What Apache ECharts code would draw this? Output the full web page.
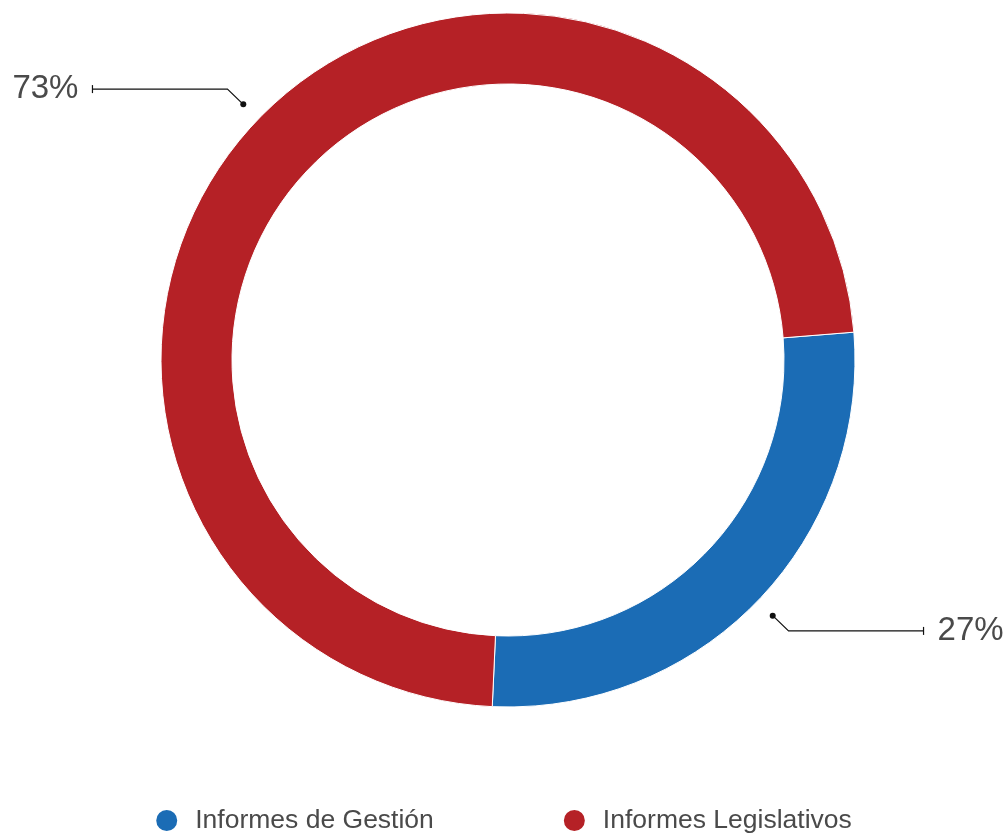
<!DOCTYPE html>
<html><head><meta charset="utf-8">
<script src="https://cdn.jsdelivr.net/npm/echarts@6/dist/echarts.min.js"></script>
<style>html,body{margin:0;padding:0;background:#fff}#c{width:1006px;height:835px}</style>
</head><body><div id="c"></div>
<script>
const categories = ['Informes de Gestión', 'Informes Legislativos'];
const values = [27, 73];
const colors = ['#1b6cb5', '#b52126'];
const labels = ['27%', '73%'];

const chart = echarts.init(document.getElementById('c'), null, {renderer: 'canvas'});
const data = categories.map((n, i) => ({name: n, value: values[i], itemStyle: {color: colors[i]}}));
const FONT = '"Liberation Sans", Arial, sans-serif';
chart.setOption({
  animation: false,
  legend: {
    data: categories, top: 802, left: 'center', icon: 'circle',
    itemWidth: 23, itemHeight: 23, itemGap: 128,
    textStyle: {fontSize: 26.5, color: '#4a4a4a', fontFamily: FONT, padding: [0, 0, 0, 12]}
  },
  series: [
    {
      type: 'pie', center: [508, 360], radius: [276, 347], startAngle: 4.6, clockwise: true,
      data: data, label: {show: false}, labelLine: {show: false},
      itemStyle: {borderColor: '#fff', borderWidth: 1}, emphasis: {disabled: true}, silent: true
    },
    {
      type: 'pie', center: [508, 360], radius: [367, 368], startAngle: 4.6, clockwise: true,
      data: categories.map((n, i) => ({name: n, value: values[i]})),
      itemStyle: {color: 'rgba(255,255,255,0)'}, silent: true, emphasis: {disabled: true},
      label: {show: true, position: 'outside', formatter: p => labels[p.dataIndex],
        fontSize: 33, color: '#4a4a4a', fontFamily: FONT, distanceToLabelLine: 14,
        overflow: 'none', padding: [9, 0, 0, 0]},
      labelLine: {show: true, length: 22, length2: 135, lineStyle: {color: '#111', width: 1.2}},
      legendHoverLink: false
    }
  ]
});

function addMarks() {
  try {
    const sd = chart.getModel().getSeriesByIndex(1).getData();
    const g = [];
    for (let i = 0; i < sd.count(); i++) {
      const el = sd.getItemGraphicEl(i);
      const gl = el && el.getTextGuideLine && el.getTextGuideLine();
      if (!gl) continue;
      const pts = gl.shape.points;
      const a = pts[0], b = pts[pts.length - 1];
      g.push({type: 'circle', shape: {cx: a[0], cy: a[1], r: 3}, style: {fill: '#111'}, silent: true});
      g.push({type: 'line', shape: {x1: b[0], y1: b[1] - 4, x2: b[0], y2: b[1] + 4}, style: {stroke: '#111', lineWidth: 1.2}, silent: true});
    }
    chart.setOption({graphic: g});
  } catch (e) { console.log(e); }
}
addMarks();
</script></body></html>
